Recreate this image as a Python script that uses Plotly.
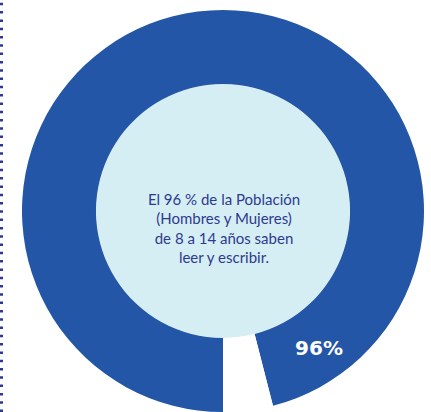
import plotly.graph_objects as go

labels = ["Saben leer y escribir", "No saben"]
values = [96, 4]
slice_colors = ["#2356a6", "#ffffff"]
disc_values = [1]
disc_color = "#d5eef4"
center_lines = ["El 96 % de la Población", "(Hombres y Mujeres)", "de 8 a 14 años saben", "leer y escribir."]
pct_label = "96%"

W, H = 431, 412

fig = go.Figure()

# light inner disc as its own pie
cx, cy, r_in = 223, 211, 127
fig.add_trace(go.Pie(
    values=disc_values, labels=[""], sort=False, textinfo="none", hoverinfo="skip",
    marker=dict(colors=[disc_color], line=dict(width=0)),
    domain=dict(x=[(cx - r_in) / W, (cx + r_in) / W],
                y=[(H - cy - r_in) / H, (H - cy + r_in) / H]),
    showlegend=False,
))

# main ring
fig.add_trace(go.Pie(
    labels=labels, values=values, sort=False, direction="clockwise", rotation=180,
    hole=0.632, textinfo="none", hoverinfo="label+percent",
    marker=dict(colors=slice_colors, line=dict(width=0)),
    domain=dict(x=[21 / W, 425 / W], y=[0, 402 / H]),
    showlegend=False,
))

# dotted rule on the left edge
fig.add_shape(type="line", xref="paper", yref="paper", x0=1.5 / W, x1=1.5 / W, y0=0, y1=1,
              line=dict(color="#2b3a90", width=3, dash="2.5px,5.8px"))

def text_box(xc, yc, w, h, text, font):
    fig.add_shape(type="rect", xref="paper", yref="paper", layer="above",
                  x0=(xc - w / 2) / W, x1=(xc + w / 2) / W,
                  y0=(H - yc - h / 2) / H, y1=(H - yc + h / 2) / H,
                  fillcolor="rgba(0,0,0,0)", line=dict(width=0),
                  label=dict(text=text, textposition="middle center", font=font))

text_box(224, 228, 200, 90, "<br>".join(center_lines),
         dict(family="Lato", size=15, color="#2e3a8e"))
text_box(319, 347, 70, 24, "<b>" + pct_label + "</b>",
         dict(family="DejaVu Sans", size=20, color="#ffffff"))

fig.update_layout(width=W, height=H, margin=dict(l=0, r=0, t=0, b=0, autoexpand=False),
                  paper_bgcolor="#ffffff", plot_bgcolor="#ffffff")

fig.write_html("out.html")
